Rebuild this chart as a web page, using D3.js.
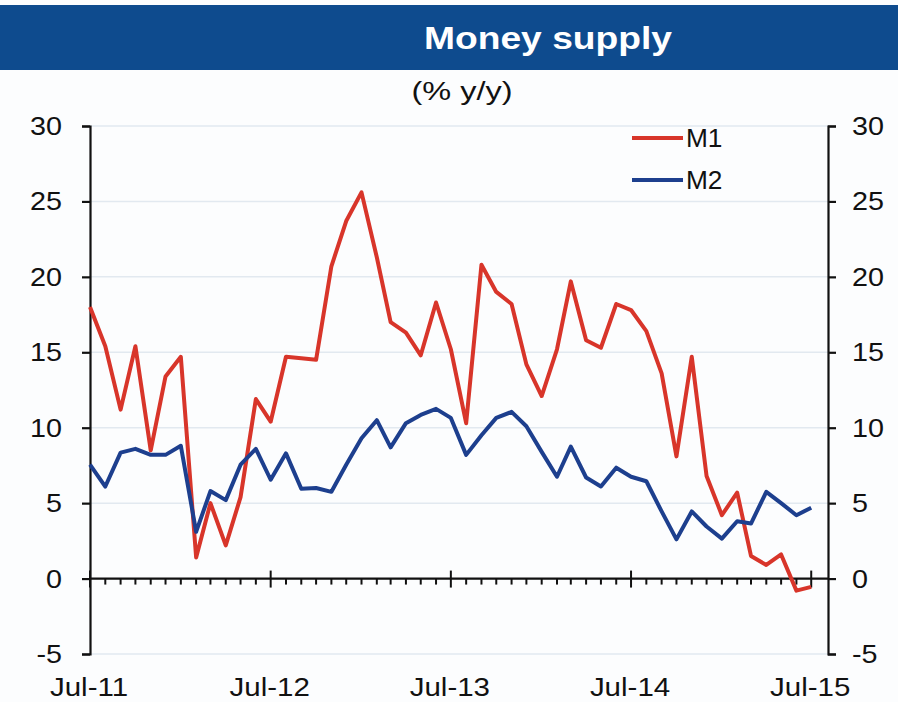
<!DOCTYPE html>
<html lang="en">
<head>
<meta charset="utf-8">
<title>Money supply</title>
<script src="https://cdn.jsdelivr.net/npm/d3@7"></script>
<style>
  body { margin: 0; background: #fcfdfe; }
  svg { display: block; font-family: "Liberation Sans", Arial, sans-serif; }
</style>
</head>
<body>
<svg id="chart" width="898" height="702"></svg>
<script>
// monthly data, Jul-11 .. Jul-15
var startMonth = new Date(2011, 6, 1);
var m1 = [18.0, 15.4, 11.2, 15.4, 8.5, 13.4, 14.7, 1.4, 5.0, 2.2, 5.4, 11.9, 10.4,
          14.7, 14.6, 14.5, 20.7, 23.7, 25.6, 21.3, 17.0, 16.3, 14.8, 18.3, 15.2,
          10.3, 20.8, 19.0, 18.2, 14.2, 12.1, 15.2, 19.7, 15.8, 15.3, 18.2, 17.8,
          16.4, 13.6, 8.1, 14.7, 6.8, 4.2, 5.7, 1.5, 0.9, 1.6, -0.8, -0.55];
var m2 = [7.55, 6.1, 8.35, 8.6, 8.2, 8.2, 8.8, 3.1, 5.8, 5.2, 7.55, 8.6, 6.55,
          8.3, 5.95, 6.0, 5.75, 7.55, 9.3, 10.5, 8.7, 10.3, 10.85, 11.25, 10.65,
          8.2, 9.5, 10.65, 11.05, 10.1, 8.4, 6.75, 8.75, 6.7, 6.1, 7.35, 6.75,
          6.45, 4.45, 2.6, 4.45, 3.45, 2.65, 3.8, 3.65, 5.75, 5.0, 4.2, 4.7];
var seriesNames = ["M1", "M2"];
var seriesColors = ["#d8352a", "#1d3f8e"];
var yTicks = [-5, 0, 5, 10, 15, 20, 25, 30];
var xTickLabels = ["Jul-11", "Jul-12", "Jul-13", "Jul-14", "Jul-15"];

var months = d3.timeMonth.range(startMonth, d3.timeMonth.offset(startMonth, m1.length));

var svg = d3.select('#chart');
var plotL = 90, plotR = 828, plotT = 126, plotB = 654;

// text in the reference is a bit wider than Arial, so stretch it sideways
function label(g, px, py, str, anchor, size, sx, extra) {
  var t = g.append('text')
    .attr('transform', 'translate(' + px + ',' + py + ') scale(' + sx + ',1)')
    .attr('text-anchor', anchor).attr('font-size', size).attr('fill', '#111')
    .text(str);
  if (extra) extra(t);
  return t;
}

// title bar
svg.append('rect').attr('x', 0).attr('y', 5).attr('width', 898).attr('height', 65)
  .attr('fill', '#0e4b8e');
label(svg, 548, 49, 'Money supply', 'middle', 31, 1.2, function(t) {
  t.attr('fill', '#fff').attr('font-weight', 'bold');
});
label(svg, 462, 100, '(% y/y)', 'middle', 25, 1.3);

var x = d3.scaleTime()
  .domain([startMonth, d3.timeDay.offset(new Date(2015, 7, 1), 3)])
  .range([plotL, plotR]);
var y = d3.scaleLinear().domain([-5, 30]).range([plotB, plotT]);

// gridlines
svg.append('g').selectAll('line')
  .data(yTicks.filter(function(d) { return d != 0; }))
  .enter().append('line')
  .attr('x1', plotL).attr('x2', plotR)
  .attr('y1', function(d) { return y(d); }).attr('y2', function(d) { return y(d); })
  .attr('stroke', '#e2e9f0').attr('stroke-width', 1.5);

// y axes (labels drawn separately)
var yl = svg.append('g').attr('transform', 'translate(' + plotL + ',0)')
  .call(d3.axisLeft(y).tickValues(yTicks).tickSize(8).tickFormat(''));
var yr = svg.append('g').attr('transform', 'translate(' + plotR + ',0)')
  .call(d3.axisRight(y).tickValues(yTicks).tickSize(8).tickFormat(''));
[yl, yr].forEach(function(g) {
  g.select('.domain').attr('stroke', '#111').attr('stroke-width', 2.2);
  g.selectAll('.tick line').attr('stroke', '#111').attr('stroke-width', 2.2);
});
var ylab = svg.append('g');
yTicks.forEach(function(v) {
  label(ylab, 62, y(v) + 9, String(v), 'end', 25, 1.15);
  label(ylab, 852, y(v) + 9, String(v), 'start', 25, 1.15);
});

// zero line with month ticks
var xg = svg.append('g').attr('transform', 'translate(0,' + y(0) + ')');
xg.append('line').attr('x1', plotL).attr('x2', plotR)
  .attr('stroke', '#111').attr('stroke-width', 2.2);
xg.selectAll('.minor').data(months).enter().append('line')
  .attr('x1', function(d) { return x(d); }).attr('x2', function(d) { return x(d); })
  .attr('y1', function(d) { return d.getMonth() == 6 ? -8 : 0; })
  .attr('y2', function(d) { return d.getMonth() == 6 ? 9 : 6; })
  .attr('stroke', '#111').attr('stroke-width', 2);

// x labels at bottom
var julys = months.filter(function(d) { return d.getMonth() == 6; });
var xlab = svg.append('g');
julys.forEach(function(d, i) {
  label(xlab, x(d) - 1, 696, xTickLabels[i], 'middle', 25, 1.18);
});

// lines
var line = d3.line()
  .x(function(d, i) { return x(months[i]); })
  .y(function(d) { return y(d); });
[m1, m2].forEach(function(s, k) {
  svg.append('path').datum(s)
    .attr('d', line)
    .attr('fill', 'none')
    .attr('stroke', seriesColors[k])
    .attr('stroke-width', 4)
    .attr('stroke-linejoin', 'round');
});

// legend
var lg = svg.append('g');
seriesNames.forEach(function(name, i) {
  var ly = 138 + i * 42;
  lg.append('line').attr('x1', 632).attr('x2', 683).attr('y1', ly).attr('y2', ly)
    .attr('stroke', seriesColors[i]).attr('stroke-width', 4);
  label(lg, 686, ly + 9, name, 'start', 25, 1.05);
});
</script>
</body>
</html>
